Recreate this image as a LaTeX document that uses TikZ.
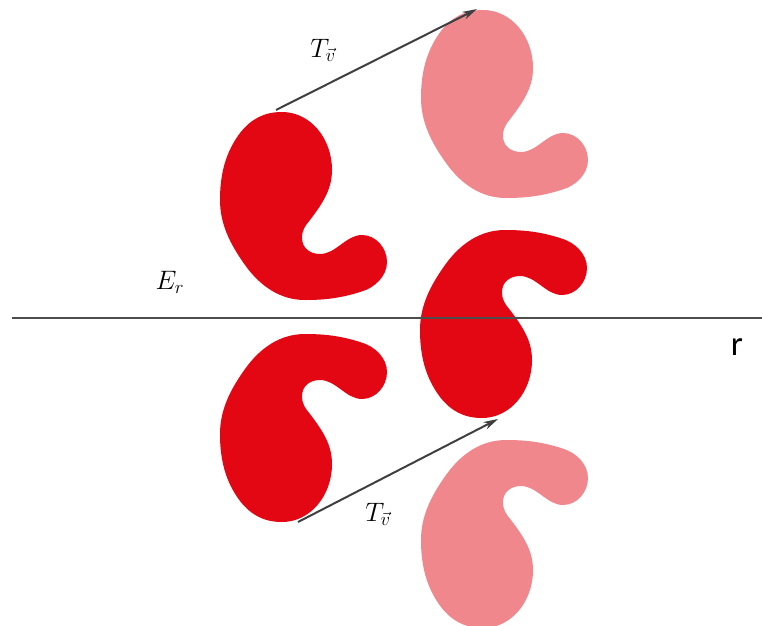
\RequirePackage{fix-cm}
\documentclass[tikz,border=0pt]{standalone}
\usepackage{fontspec}
\newfontfamily\rfont{Carlito}
\usetikzlibrary{arrows.meta}

\definecolor{kidneyred}{HTML}{E30613}
\definecolor{kidneypink}{HTML}{EF878D}
\definecolor{arrowgray}{HTML}{3F3F3F}
\definecolor{axisgray}{HTML}{4D4D4D}

% outline of one kidney shape (top-left copy, in pixel units)
\newcommand{\kidney}{
  (282,112) .. controls (310,112) and (332,138) .. (332,170)
  .. controls (332,190) and (322,204) .. (310,220)
  .. controls (305,226) and (302,230) .. (302,238)
  .. controls (302,248) and (310,254) .. (320,254)
  .. controls (336,254) and (346,235) .. (362,235)
  .. controls (376,235) and (387,248) .. (387,262)
  .. controls (387,276) and (375,288) .. (360,292)
  .. controls (341,298) and (325,300) .. (305,300)
  .. controls (280,300) and (260,286) .. (245,265)
  .. controls (230,244) and (220,224) .. (220,200)
  .. controls (220,175) and (225,153) .. (240,133)
  .. controls (251,119) and (264,112) .. (282,112) -- cycle}

\begin{document}
\begin{tikzpicture}[
  x=0.75pt, y=-0.75pt,
  dark/.style={fill=kidneyred},
  light/.style={fill=kidneypink},
  vec/.style={-{Stealth[length=11pt,width=6pt]}, line width=1.5pt, draw=arrowgray},
  axis/.style={line width=1.5pt, draw=axisgray},
  lbl/.style={font=\fontsize{20}{24}\selectfont},
  rlbl/.style={font=\rfont\fontsize{26}{30}\selectfont}
]
  \useasboundingbox (0,0) rectangle (762,625);

  % shapes
  \fill[dark] \kidney;
  \begin{scope}[shift={(201,-102)}]
    \fill[light] \kidney;
  \end{scope}
  \begin{scope}[shift={(200,530)}, yscale=-1]
    \fill[dark] \kidney;
  \end{scope}
  \begin{scope}[shift={(0,634)}, yscale=-1]
    \fill[dark] \kidney;
  \end{scope}
  \begin{scope}[shift={(201,740)}, yscale=-1]
    \fill[light] \kidney;
  \end{scope}

  % mirror line
  \coordinate (axisL) at (12,318);
  \coordinate (axisR) at (762,318);
  \draw[axis] (axisL) -- (axisR);

  % translation arrows
  \coordinate (tlTop) at (276,110);
  \coordinate (trTop) at (477,9);
  \coordinate (blBot) at (298,522);
  \coordinate (mrBot) at (498,419);
  \draw[vec] (tlTop) -- (trTop);
  \draw[vec] (blBot) -- (mrBot);

  % labels
  \node[lbl] (Tup) at (323,50) {$T_{\vec{v}}$};
  \node[lbl] (Tdown) at (378,514) {$T_{\vec{v}}$};
  \node[lbl] (Er) at (170,282) {$E_r$};
  \node[rlbl] (r) at (737,347) {r};
\end{tikzpicture}
\end{document}
